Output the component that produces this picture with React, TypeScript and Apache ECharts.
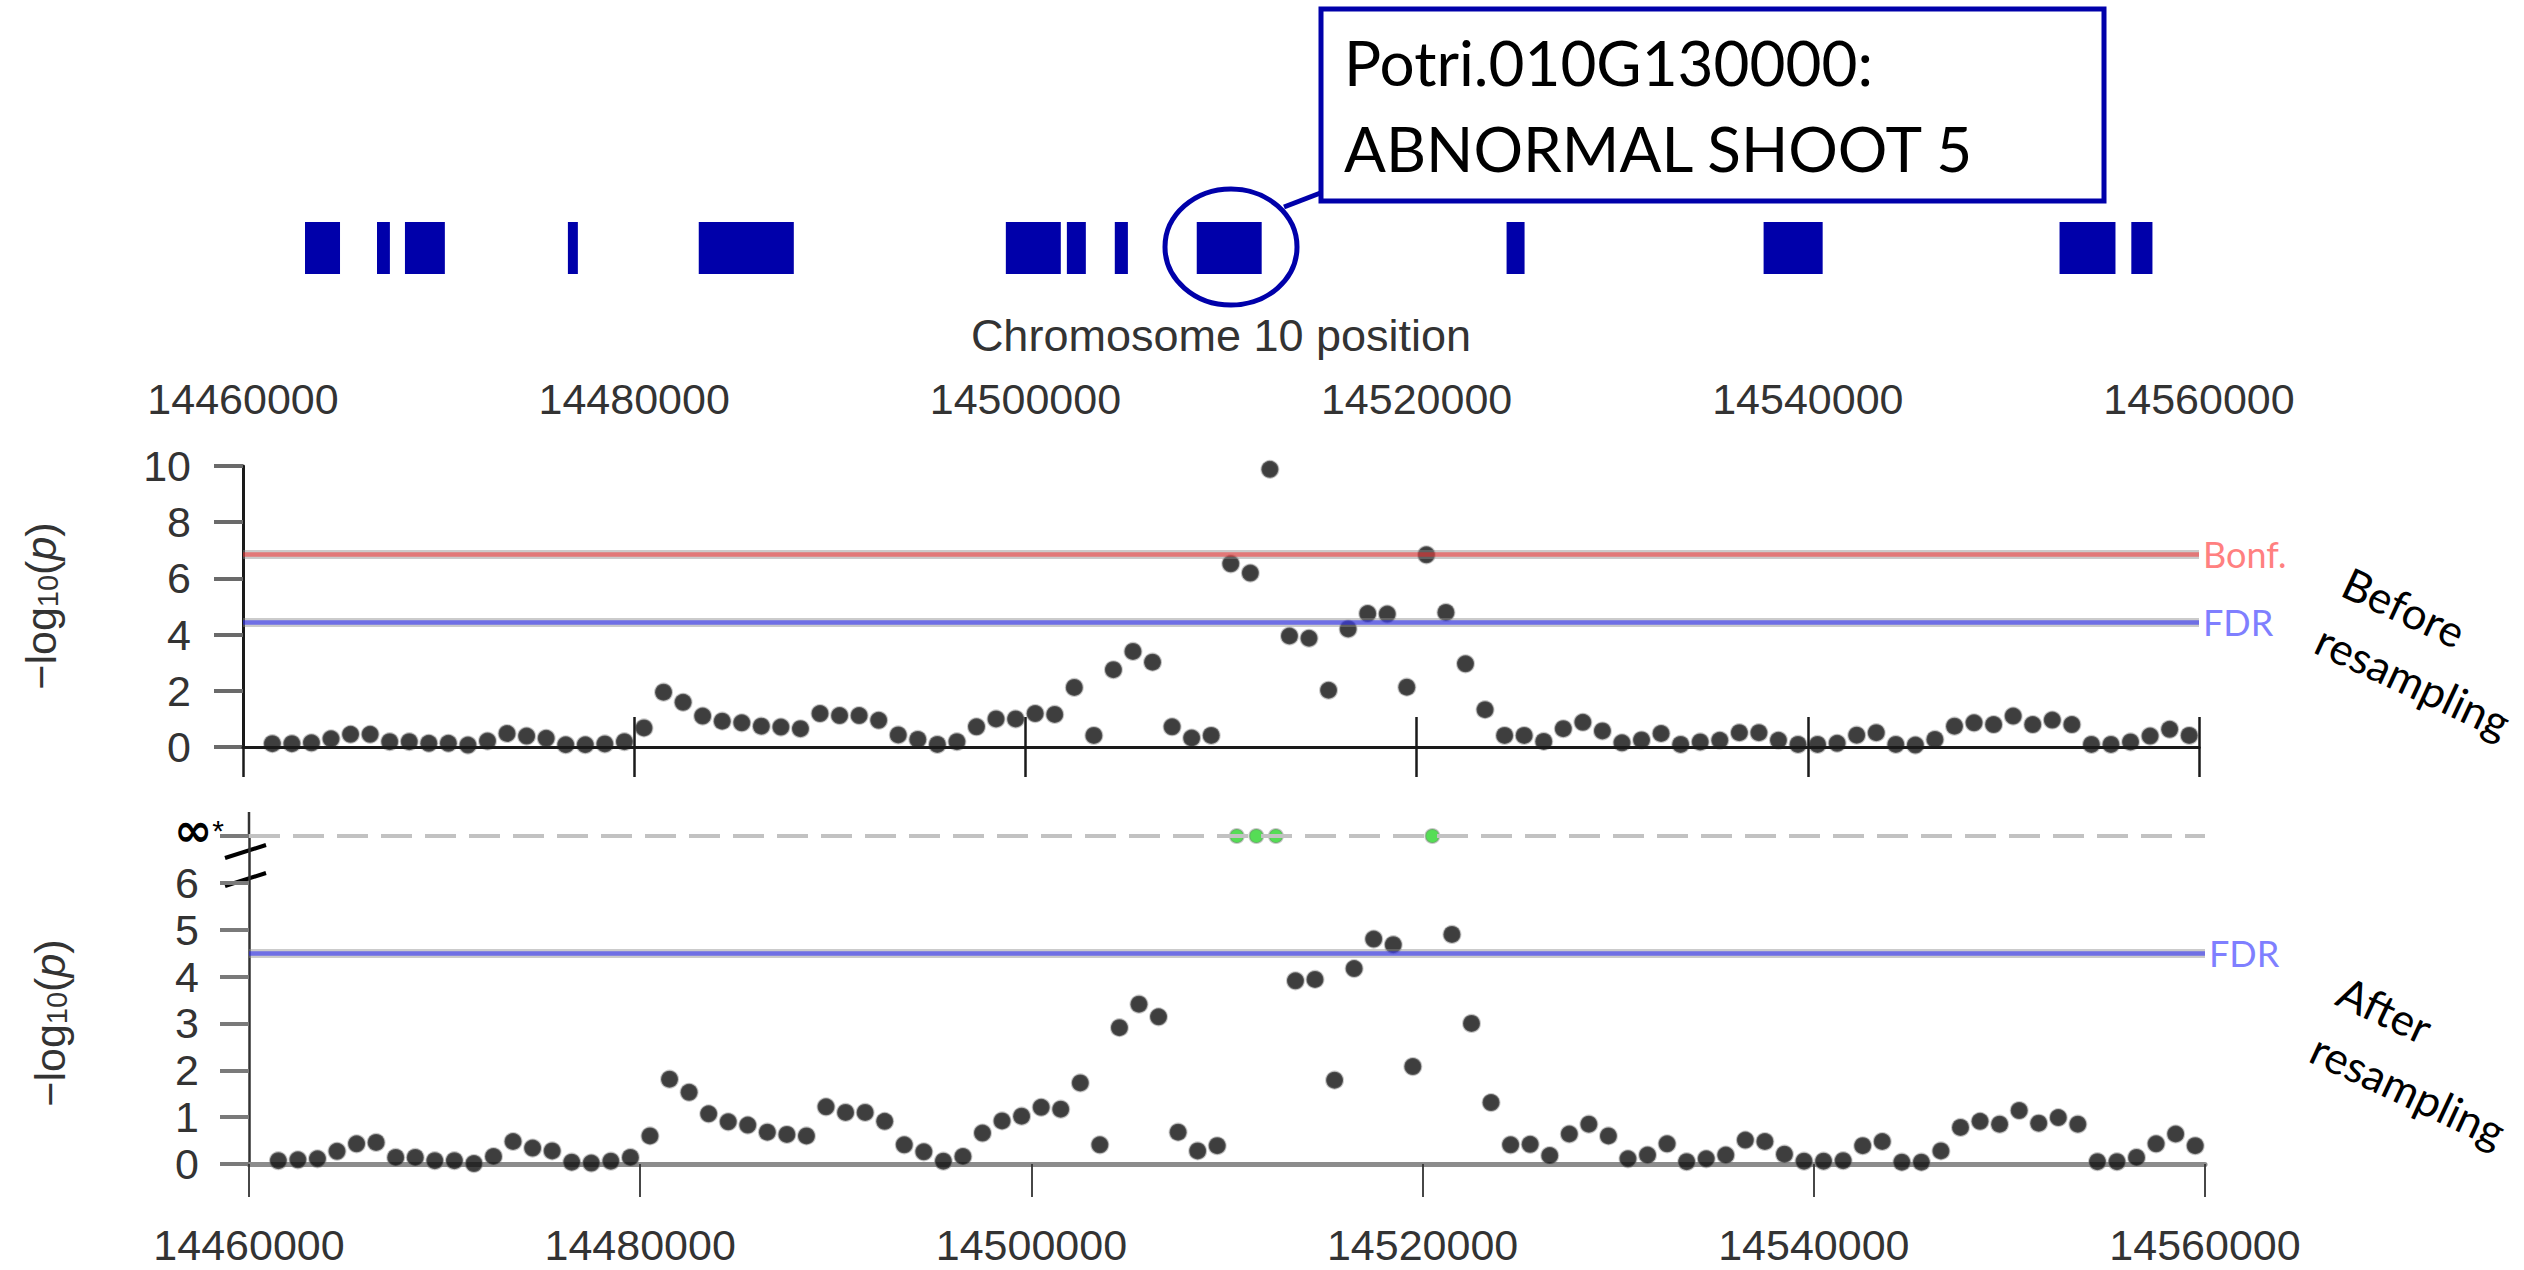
import React, { useEffect, useRef } from "react";
import * as echarts from "echarts";

// ---------- data ----------
const X_MIN = 14460000;
const X_MAX = 14560000;
const X_INTERVAL = 20000;

const positions = [
  14461500, 14462500, 14463500, 14464500, 14465500, 14466500, 14467500, 14468500, 14469500, 14470500,
  14471500, 14472500, 14473500, 14474500, 14475500, 14476500, 14477500, 14478500, 14479500, 14480500,
  14481500, 14482500, 14483500, 14484500, 14485500, 14486500, 14487500, 14488500, 14489500, 14490500,
  14491500, 14492500, 14493500, 14494500, 14495500, 14496500, 14497500, 14498500, 14499500, 14500500,
  14501500, 14502500, 14503500, 14504500, 14505500, 14506500, 14507500, 14508500, 14509500, 14510500,
  14511500, 14512500, 14513500, 14514500, 14515500, 14516500, 14517500, 14518500, 14519500, 14520500,
  14521500, 14522500, 14523500, 14524500, 14525500, 14526500, 14527500, 14528500, 14529500, 14530500,
  14531500, 14532500, 14533500, 14534500, 14535500, 14536500, 14537500, 14538500, 14539500, 14540500,
  14541500, 14542500, 14543500, 14544500, 14545500, 14546500, 14547500, 14548500, 14549500, 14550500,
  14551500, 14552500, 14553500, 14554500, 14555500, 14556500, 14557500, 14558500, 14559500,
];

// -log10(p) before resampling
const beforeValues = [
  0.12, 0.12, 0.15, 0.29, 0.45, 0.45, 0.19, 0.19, 0.13, 0.13,
  0.07, 0.21, 0.48, 0.39, 0.31, 0.08, 0.08, 0.11, 0.19, 0.68,
  1.95, 1.59, 1.10, 0.92, 0.86, 0.74, 0.71, 0.65, 1.19, 1.12,
  1.12, 0.95, 0.43, 0.27, 0.09, 0.19, 0.72, 1.00, 1.00, 1.19,
  1.16, 2.12, 0.41, 2.75, 3.40, 3.02, 0.72, 0.32, 0.41, 6.52,
  6.19, 9.88, 3.95, 3.87, 2.02, 4.20, 4.75, 4.73, 2.13, 6.84,
  4.79, 2.96, 1.33, 0.41, 0.41, 0.20, 0.65, 0.88, 0.57, 0.15,
  0.25, 0.48, 0.09, 0.18, 0.24, 0.51, 0.51, 0.24, 0.09, 0.09,
  0.13, 0.42, 0.51, 0.09, 0.07, 0.27, 0.74, 0.86, 0.80, 1.10,
  0.80, 0.96, 0.80, 0.09, 0.09, 0.18, 0.39, 0.63, 0.41,
];

// -log10(p) after resampling (Infinity = p of zero, drawn on the "∞" line)
const afterValues = [
  0.07, 0.09, 0.11, 0.27, 0.43, 0.46, 0.14, 0.14, 0.07, 0.07,
  0.01, 0.16, 0.48, 0.34, 0.28, 0.04, 0.02, 0.06, 0.14, 0.60,
  1.81, 1.53, 1.07, 0.90, 0.83, 0.68, 0.63, 0.60, 1.22, 1.10,
  1.10, 0.91, 0.41, 0.26, 0.06, 0.16, 0.66, 0.92, 1.02, 1.21,
  1.17, 1.73, 0.41, 2.91, 3.41, 3.14, 0.68, 0.28, 0.39, Infinity,
  Infinity, Infinity, 3.91, 3.94, 1.79, 4.17, 4.80, 4.68, 2.08, Infinity,
  4.90, 3.00, 1.31, 0.41, 0.42, 0.18, 0.64, 0.85, 0.60, 0.11,
  0.19, 0.43, 0.05, 0.11, 0.19, 0.51, 0.48, 0.21, 0.06, 0.06,
  0.07, 0.39, 0.48, 0.04, 0.04, 0.28, 0.78, 0.91, 0.85, 1.14,
  0.87, 0.99, 0.85, 0.05, 0.05, 0.14, 0.43, 0.64, 0.39,
];

const geneStarts = [14463170, 14466850, 14468280, 14476610, 14483300, 14499000, 14502120, 14504570, 14508760, 14524600, 14537740, 14552870, 14556540];
const geneEnds = [14464960, 14467510, 14470320, 14477120, 14488160, 14501810, 14503090, 14505240, 14512080, 14525520, 14540760, 14555730, 14557620];

const BEFORE_Y_MAX = 10;
const BEFORE_Y_INTERVAL = 2;
const INF_LEVEL = 7;
const BONF_BEFORE = 6.87;
const FDR_BEFORE = 4.45;
const FDR_AFTER = 4.5;

const AXIS_FONT = "'Liberation Sans', Arial, sans-serif";
const NOTE_FONT = "Lato, 'Open Sans', sans-serif";
const GENE_BLUE = "#0000aa";
const TEXT_GREY = "#333";

export default function App() {
  const ref = useRef<HTMLDivElement>(null);

  useEffect(() => {
    const chart = echarts.init(ref.current!, null, { renderer: "svg" });

    const beforeData = positions.map((p, i) => [p, beforeValues[i]]);
    const afterFinite = positions
      .map((p, i) => [p, afterValues[i]])
      .filter((d) => Number.isFinite(d[1]));
    const afterInf = positions
      .map((p, i) => [p, afterValues[i]])
      .filter((d) => !Number.isFinite(d[1]))
      .map((d) => [d[0], INF_LEVEL]);
    const genes = geneStarts.map((s, i) => [s, geneEnds[i]]);

    const dotStyle = {
      color: "#0e0e0e",
      borderColor: "rgba(120,120,120,0.5)",
      borderWidth: 2,
    };

    const halo = (y: number) => ({
      yAxis: y,
      lineStyle: { color: "rgba(140,140,140,0.45)", width: 9, type: "solid" },
      label: { show: false },
    });
    const thr = (y: number, color: string, labelText: string, labelColor: string) => ({
      yAxis: y,
      lineStyle: { color, width: 4.5, type: "solid" },
      label: {
        show: true,
        formatter: labelText,
        position: "end",
        distance: 4,
        color: labelColor,
        fontSize: 36,
        fontFamily: NOTE_FONT,
      },
    });

    const xLabelFmt = (v: number) => String(v);

    const option: any = {
      animation: false,
      backgroundColor: "#ffffff",
      grid: [
        { left: 243, top: 222, width: 1956, height: 52 },
        { left: 243, top: 466, width: 1956, height: 281 },
        { left: 249, top: 836, width: 1956, height: 328 },
      ],
      xAxis: [
        { gridIndex: 0, type: "value", min: X_MIN, max: X_MAX, show: false },
        {
          gridIndex: 1,
          type: "value",
          position: "top",
          min: X_MIN,
          max: X_MAX,
          interval: X_INTERVAL,
          z: 10,
          axisLine: { show: true, lineStyle: { color: "#1a1a1a", width: 3 } },
          axisTick: { show: true, length: 30, lineStyle: { color: "#1a1a1a", width: 2.5 } },
          axisLabel: { fontSize: 43, fontFamily: AXIS_FONT, color: TEXT_GREY, margin: 46, formatter: xLabelFmt },
          splitLine: { show: false },
          name: "Chromosome 10 position",
          nameLocation: "middle",
          nameGap: 108,
          nameTextStyle: { fontSize: 45, fontFamily: AXIS_FONT, color: TEXT_GREY },
        },
        {
          gridIndex: 1,
          type: "value",
          position: "bottom",
          min: X_MIN,
          max: X_MAX,
          interval: X_INTERVAL,
          axisLine: { show: true, lineStyle: { color: "#1a1a1a", width: 3 } },
          axisTick: { show: true, length: 30, lineStyle: { color: "#1a1a1a", width: 2.5 } },
          axisLabel: { show: false },
          splitLine: { show: false },
        },
        {
          gridIndex: 2,
          type: "value",
          position: "bottom",
          min: X_MIN,
          max: X_MAX,
          interval: X_INTERVAL,
          axisLine: { show: true, lineStyle: { color: "#8c8c8c", width: 5 } },
          axisTick: { show: true, length: 33, lineStyle: { color: "#333", width: 1.8 } },
          axisLabel: { fontSize: 43, fontFamily: AXIS_FONT, color: TEXT_GREY, margin: 59, formatter: xLabelFmt },
          splitLine: { show: false },
        },
      ],
      yAxis: [
        { gridIndex: 0, type: "value", min: 0, max: 1, show: false },
        {
          gridIndex: 1,
          type: "value",
          min: 0,
          max: BEFORE_Y_MAX,
          interval: BEFORE_Y_INTERVAL,
          axisLine: { show: true, lineStyle: { color: "#1a1a1a", width: 3 } },
          axisTick: { show: true, length: 29, lineStyle: { color: "#6a6a6a", width: 4 } },
          axisLabel: { fontSize: 43, fontFamily: AXIS_FONT, color: TEXT_GREY, margin: 52, showMaxLabel: true, showMinLabel: true },
          splitLine: { show: false },
        },
        {
          gridIndex: 2,
          type: "value",
          position: "left",
          offset: 0,
          min: 0,
          max: INF_LEVEL,
          interval: 1,
          axisLine: { show: true, lineStyle: { color: "#333", width: 2.5 } },
          axisTick: { show: true, length: 29, lineStyle: { color: "#7a7a7a", width: 4 } },
          axisLabel: {
            margin: 50,
            fontSize: 43,
            fontFamily: AXIS_FONT,
            color: TEXT_GREY,
            formatter: (v: number) => (Number(v) === INF_LEVEL ? "" : String(v)),
          },
          splitLine: { show: false },
        },
        {
          // carries only the "∞*" label of the after-resampling panel
          gridIndex: 2,
          type: "value",
          position: "left",
          offset: 0,
          min: 0,
          max: INF_LEVEL,
          interval: 1,
          axisLine: { show: false },
          axisTick: { show: false },
          axisLabel: {
            margin: 25,
            showMaxLabel: true,
            padding: [0, 0, 12, 0],
            formatter: (v: number) => (Number(v) === INF_LEVEL ? "{inf|∞}{ast|*}" : ""),
            rich: {
              inf: { fontSize: 46, lineHeight: 36, fontWeight: "bold", fontFamily: "'DejaVu Sans', sans-serif", color: "#000" },
              ast: { fontSize: 30, lineHeight: 36, fontFamily: AXIS_FONT, color: "#000" },
            },
          },
          splitLine: { show: false },
        },
      ],
      series: [
        {
          name: "genes",
          type: "custom",
          xAxisIndex: 0,
          yAxisIndex: 0,
          data: genes,
          encode: { x: [0, 1] },
          renderItem: (params: any, api: any) => {
            const a = api.coord([api.value(0), 1]);
            const b = api.coord([api.value(1), 0]);
            return {
              type: "rect",
              shape: { x: a[0], y: a[1], width: Math.max(b[0] - a[0], 4), height: b[1] - a[1] },
              style: { fill: GENE_BLUE },
            };
          },
        },
        {
          name: "before",
          type: "scatter",
          xAxisIndex: 1,
          yAxisIndex: 1,
          symbolSize: 17,
          itemStyle: dotStyle,
          data: beforeData,
          z: 3,
        },
        {
          name: "beforeThresholds",
          type: "scatter",
          xAxisIndex: 1,
          yAxisIndex: 1,
          data: [],
          z: 6,
          markLine: {
            symbol: "none",
            silent: true,
            data: [
              halo(BONF_BEFORE),
              thr(BONF_BEFORE, "rgba(255,20,20,0.45)", "Bonf.", "#ff8080"),
              halo(FDR_BEFORE),
              thr(FDR_BEFORE, "rgba(20,20,255,0.5)", "FDR", "#7f7fff"),
            ],
          },
        },
        {
          name: "infLine",
          type: "scatter",
          xAxisIndex: 3,
          yAxisIndex: 2,
          data: [],
          z: 1,
          markLine: {
            symbol: "none",
            silent: true,
            data: [
              {
                yAxis: INF_LEVEL,
                lineStyle: { color: "#c2c2c2", width: 4, type: [31, 13] },
                label: { show: false },
              },
            ],
          },
        },
        {
          name: "after",
          type: "scatter",
          xAxisIndex: 3,
          yAxisIndex: 2,
          symbolSize: 17,
          itemStyle: dotStyle,
          data: afterFinite,
          z: 3,
        },
        {
          name: "afterInfinite",
          type: "scatter",
          xAxisIndex: 3,
          yAxisIndex: 2,
          symbolSize: 14,
          itemStyle: { color: "#2ad42a", borderColor: "rgba(120,120,120,0.5)", borderWidth: 2 },
          data: afterInf,
          z: 4,
        },
        {
          name: "afterThresholds",
          type: "scatter",
          xAxisIndex: 3,
          yAxisIndex: 2,
          data: [],
          z: 6,
          markLine: {
            symbol: "none",
            silent: true,
            data: [halo(FDR_AFTER), thr(FDR_AFTER, "rgba(20,20,255,0.5)", "FDR", "#7f7fff")],
          },
        },
      ],
      graphic: [
        // circle around the highlighted gene
        {
          type: "ellipse",
          shape: { cx: 1231, cy: 247, rx: 66, ry: 58 },
          style: { fill: "none", stroke: GENE_BLUE, lineWidth: 5 },
          z: 50,
        },
        {
          type: "line",
          shape: { x1: 1284, y1: 207, x2: 1323, y2: 192 },
          style: { stroke: GENE_BLUE, lineWidth: 5 },
          z: 50,
        },
        {
          type: "rect",
          shape: { x: 1321, y: 9, width: 783, height: 192 },
          style: { fill: "#fff", stroke: GENE_BLUE, lineWidth: 5 },
          z: 50,
        },
        {
          type: "text",
          x: 1344,
          y: 19,
          z: 51,
          style: {
            text: "Potri.010G130000:\nABNORMAL SHOOT 5",
            font: "62px " + NOTE_FONT,
            lineHeight: 86,
            fill: "#000",
            align: "left",
            verticalAlign: "top",
            textAlign: "left",
            textVerticalAlign: "top",
          },
        },
        // y-axis titles
        {
          type: "text",
          x: 41,
          y: 606,
          rotation: Math.PI / 2,
          style: {
            text: "{n|−log}{s|10}{n|(}{i|p}{n|)}",
            align: "center",
            verticalAlign: "middle",
            textAlign: "center",
            textVerticalAlign: "middle",
            rich: {
              n: { fontSize: 43, fontFamily: AXIS_FONT, fill: TEXT_GREY },
              s: { fontSize: 29, fontFamily: AXIS_FONT, fill: TEXT_GREY, verticalAlign: "bottom", padding: [14, 0, 0, 0] },
              i: { fontSize: 43, fontFamily: AXIS_FONT, fill: TEXT_GREY, fontStyle: "italic" },
            },
          },
        },
        {
          type: "text",
          x: 50,
          y: 1023,
          rotation: Math.PI / 2,
          style: {
            text: "{n|−log}{s|10}{n|(}{i|p}{n|)}",
            align: "center",
            verticalAlign: "middle",
            textAlign: "center",
            textVerticalAlign: "middle",
            rich: {
              n: { fontSize: 43, fontFamily: AXIS_FONT, fill: TEXT_GREY },
              s: { fontSize: 29, fontFamily: AXIS_FONT, fill: TEXT_GREY, verticalAlign: "bottom", padding: [14, 0, 0, 0] },
              i: { fontSize: 43, fontFamily: AXIS_FONT, fill: TEXT_GREY, fontStyle: "italic" },
            },
          },
        },
        // axis break marks
        { type: "line", shape: { x1: 249, y1: 812, x2: 249, y2: 836 }, style: { stroke: "#333", lineWidth: 2.5 } },
        { type: "line", shape: { x1: 225, y1: 858, x2: 266, y2: 845 }, style: { stroke: "#000", lineWidth: 4 } },
        { type: "line", shape: { x1: 225, y1: 886, x2: 266, y2: 873 }, style: { stroke: "#000", lineWidth: 4 } },
        // panel captions
        {
          type: "text",
          x: 2359,
          y: 551,
          rotation: (-25 * Math.PI) / 180,
          style: {
            text: "Before\nresampling",
            font: "44px " + NOTE_FONT,
            lineHeight: 63,
            fill: "#000",
            align: "left",
            verticalAlign: "top",
            textAlign: "left",
            textVerticalAlign: "top",
          },
        },
        {
          type: "text",
          x: 2354,
          y: 960,
          rotation: (-25 * Math.PI) / 180,
          style: {
            text: "After\nresampling",
            font: "44px " + NOTE_FONT,
            lineHeight: 63,
            fill: "#000",
            align: "left",
            verticalAlign: "top",
            textAlign: "left",
            textVerticalAlign: "top",
          },
        },
      ],
    };

    chart.setOption(option);
    return () => chart.dispose();
  }, []);

  return (
    <div
      ref={ref}
      style={{ position: "fixed", left: 0, top: 0, width: 2524, height: 1270, background: "#fff" }}
    />
  );
}
